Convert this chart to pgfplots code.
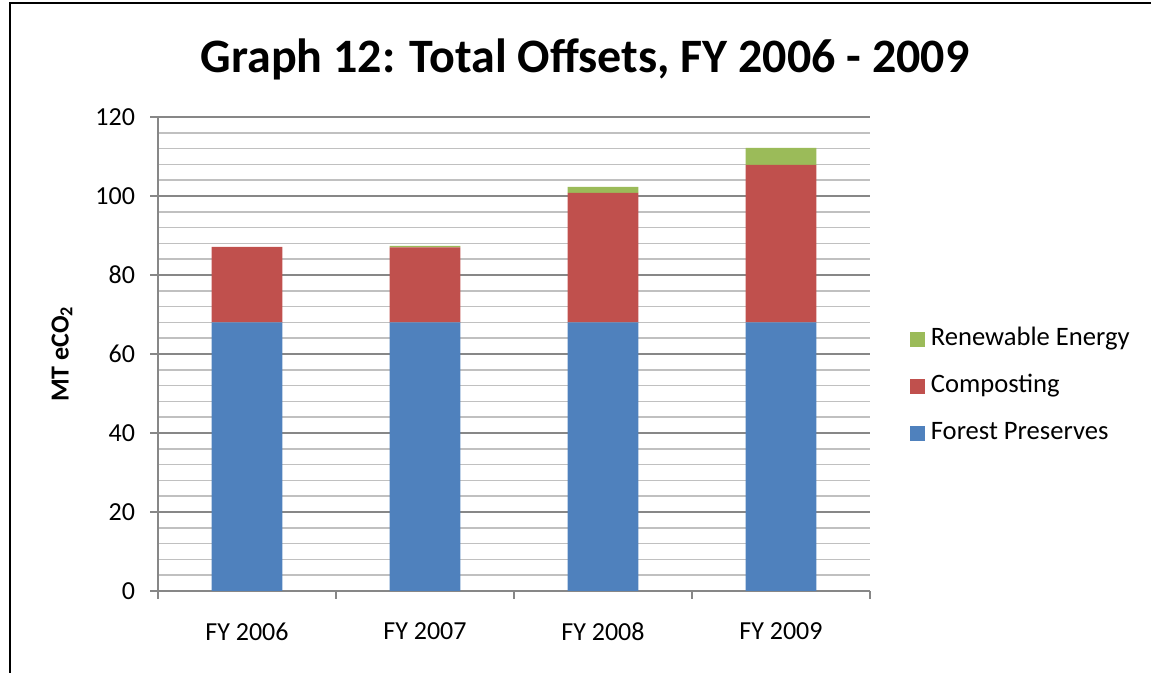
\documentclass[border=0pt]{standalone}
\usepackage{pgfplots}
\pgfplotsset{compat=1.18}
\usepackage{fontspec}
\setmainfont{Carlito}

\definecolor{forest}{HTML}{4F81BD}
\definecolor{compost}{HTML}{C0504D}
\definecolor{renew}{HTML}{9BBB59}
\definecolor{axgray}{HTML}{878787}
\definecolor{mingray}{HTML}{C0C0C0}

\begin{document}
\begin{tikzpicture}
\begin{axis}[
    at={(0,0)}, anchor=south west,
    scale only axis,
    width=356pt, height=237pt,
    ybar stacked,
    bar width=35.3pt,
    xmin=-0.5, xmax=3.5,
    ymin=0, ymax=120,
    ytick={0,20,...,120},
    minor y tick num=4,
    ymajorgrids, yminorgrids,
    major grid style={draw=axgray, line width=0.8pt},
    minor grid style={draw=mingray, line width=0.8pt},
    axis x line*=bottom, axis y line*=left,
    axis line style={draw=axgray, line width=0.8pt, -},
    tick style={draw=axgray, line width=0.8pt},
    tick align=outside,
    major tick length=4pt,
    minor tick length=0pt,
    xtick={-0.5,0.5,1.5,2.5,3.5},
    xticklabels={},
    extra x ticks={0,1,2,3},
    extra x tick labels={FY 2006,FY 2007,FY 2008,FY 2009},
    extra x tick style={major tick length=0pt},
    tick label style={font=\fontsize{13}{15}\selectfont},
    /pgf/number format/assume math mode=true,
    xticklabel style={yshift=-12.5pt},
    yticklabel style={xshift=-4pt},
    reverse legend,
    legend cell align=left,
    legend image code/.code={\fill[#1] (0pt,-3.75pt) rectangle (7.5pt,3.75pt);},
    legend style={draw=none, fill=none, at={(1.047,0.566)}, anchor=north west,
        font=\fontsize{13.3}{15}\selectfont, row sep=11.5pt,
        nodes={inner xsep=3pt, inner ysep=0pt, text height=9pt, text depth=3pt}},
]
\addplot[fill=forest, draw=none] coordinates {(0,68) (1,68) (2,68) (3,68)};
\addplot[fill=compost, draw=none] coordinates {(0,19.1) (1,19.0) (2,32.8) (3,39.9)};
\addplot[fill=renew, draw=none] coordinates {(0,0) (1,0.4) (2,1.5) (3,4.3)};
\legend{Forest Preserves,Composting,Renewable Energy}
\end{axis}
\node[anchor=base, font=\fontsize{24}{28}\selectfont\bfseries] at (213.5pt,259pt)
    {Graph 12: Total Offsets, FY 2006 - 2009};
\node[rotate=90, font=\fontsize{13}{15}\selectfont\bfseries] at (-48pt,118.5pt)
    {MT eCO\textsubscript{2}};
\draw[line width=1pt] (-74pt,-41pt) -- (-74pt,294pt) -- (496.5pt,294pt);
\pgfresetboundingbox
\useasboundingbox (-79pt,-41pt) rectangle (496.5pt,295.5pt);
\end{tikzpicture}
\end{document}
